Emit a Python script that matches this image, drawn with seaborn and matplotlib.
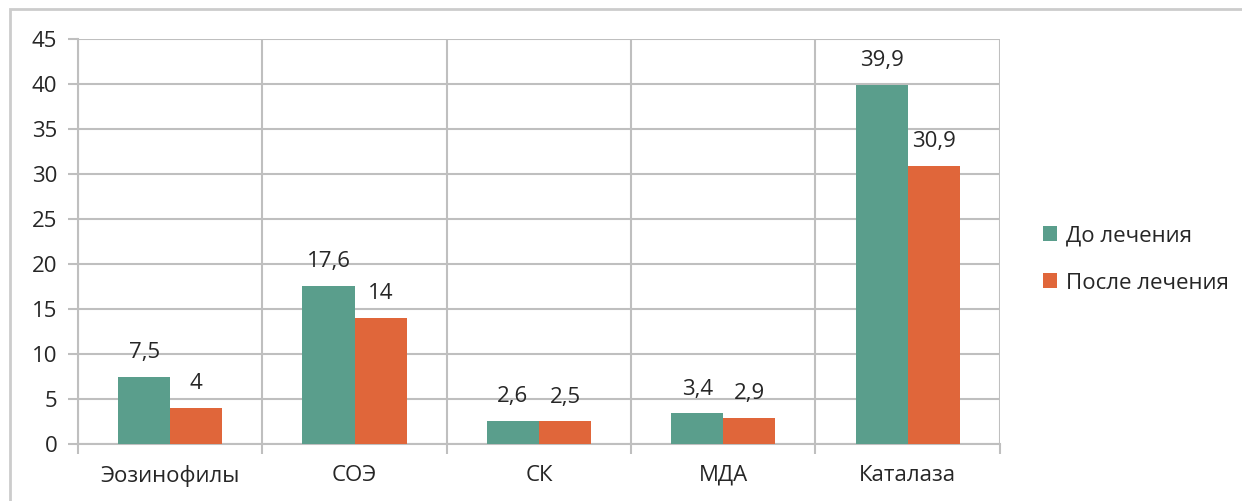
import pandas as pd
import matplotlib.pyplot as plt
import seaborn as sns
import numpy as np
from matplotlib.patches import Rectangle
from matplotlib.ticker import FixedLocator

# Chart data
categories = ['Эозинофилы', 'СОЭ', 'СК', 'МДА', 'Каталаза']
series_names = ['До лечения', 'После лечения']
before = [7.5, 17.6, 2.6, 3.4, 39.9]
after = [4, 14, 2.5, 2.9, 30.9]
y_ticks = [0, 5, 10, 15, 20, 25, 30, 35, 40, 45]

colors = ['#5a9e8c', '#e0663a']
grid_color = '#bfbfbf'


def main():
    df = pd.DataFrame({
        'category': categories * 2,
        'series': [series_names[0]] * len(categories) + [series_names[1]] * len(categories),
        'value': before + after,
    })

    sns.set_style('white')
    plt.rcParams['font.family'] = ['Open Sans', 'DejaVu Sans']

    fig = plt.figure(figsize=(12.42, 5.01), dpi=100)
    ax = fig.add_axes([0.0628, 0.1138, 0.805 - 0.0628, 0.922 - 0.1138])

    sns.barplot(data=df, x='category', y='value', hue='series',
                order=categories, hue_order=series_names,
                palette=colors, width=0.565, gap=0, saturation=1,
                edgecolor='none', linewidth=0, ax=ax, zorder=3)

    # value labels with comma decimals
    for container in ax.containers:
        vals = container.datavalues
        labels = [f'{v:g}'.replace('.', ',') for v in vals]
        ax.bar_label(container, labels=labels, padding=10, fontsize=16)

    ax.set_ylim(0, 45)
    ax.set_xlim(-0.5, len(categories) - 0.5)
    ax.set_yticks(y_ticks)
    ax.set_xlabel('')
    ax.set_ylabel('')

    ax.xaxis.set_minor_locator(FixedLocator(np.arange(-0.5, len(categories), 1.0)))
    ax.grid(axis='y', which='major', color=grid_color, linewidth=1.5, zorder=0)
    ax.grid(axis='x', which='minor', color=grid_color, linewidth=1.5, zorder=0)
    ax.set_axisbelow(True)

    ax.tick_params(axis='x', which='major', length=0, labelsize=16, pad=15)
    ax.tick_params(axis='x', which='minor', length=7, width=1.5, color=grid_color,
                   direction='out', bottom=True)
    ax.tick_params(axis='y', length=7, width=1.5, color=grid_color, direction='out',
                   left=True, labelsize=16, pad=8)

    for side in ['top', 'right']:
        ax.spines[side].set_visible(False)
    for side in ['left', 'bottom']:
        ax.spines[side].set_color(grid_color)
        ax.spines[side].set_linewidth(1.5)

    ax.legend(loc='center left', bbox_to_anchor=(1.025, 0.456), frameon=False,
              fontsize=16, handlelength=0.65, handleheight=0.65,
              handletextpad=0.4, labelspacing=1.2)

    # outer frame of the chart area
    fig.patches.append(Rectangle((10 / 1242, -0.1), 1.2, 1 - 9 / 501 + 0.1,
                                 transform=fig.transFigure, fill=False,
                                 edgecolor='#cccccc', linewidth=2))

    fig.savefig('out.png', dpi=100)
    plt.close(fig)


if __name__ == '__main__':
    main()
